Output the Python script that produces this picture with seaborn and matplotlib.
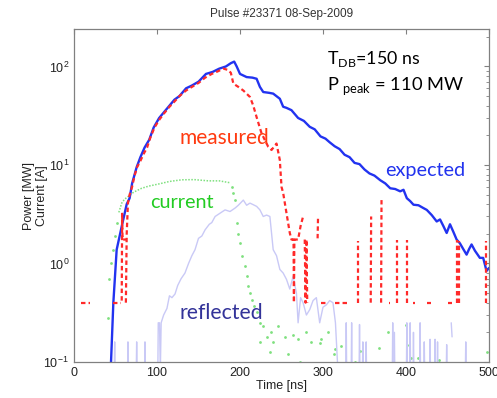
import numpy as np
import pandas as pd
import matplotlib
matplotlib.use("Agg")
import matplotlib.pyplot as plt
from matplotlib.ticker import LogLocator, NullFormatter, FixedLocator
import seaborn as sns

sns.set_style("white")
plt.rcParams["font.family"] = ["Liberation Sans", "DejaVu Sans"]

# ---------------- data ----------------
title = "Pulse #23371 08-Sep-2009"
x_ticks = [0, 100, 200, 300, 400, 500]

# expected power (MW)
exp_t = [44.6, 47.4, 51.4, 57.5, 63.5, 67, 70, 75.5, 80, 85, 90.6, 96, 102.6, 108, 115, 121, 127, 135,
         142, 150, 159, 167, 175, 183, 189, 193, 196, 200, 208, 215, 220, 224, 228, 235, 240, 248, 252,
         256, 262, 270, 277, 284, 290, 297, 303, 308, 314, 320, 326, 332, 338, 344, 350, 356, 362, 369,
         375, 381, 387, 393, 397, 401, 405, 409, 415, 421, 425, 431, 437, 441, 445, 449, 453, 457, 461,
         465, 469, 473, 476, 479, 483, 489, 493, 497, 500]
exp_y = [0.1, 0.4, 1.38, 2.38, 4.0, 4.6, 6.5, 9.5, 12, 15, 18, 24, 30, 34, 40, 46, 50, 60,
         64, 70, 84, 88, 95, 100, 108, 112, 100, 84, 78, 77, 75, 62, 55, 54, 53, 47, 39,
         38, 36, 30, 28, 24.4, 23, 19.5, 18.5, 17, 15.5, 14.5, 12.7, 12, 10.5, 10.2, 9, 8.2, 7.8, 7.0,
         6.5, 5.8, 5.7, 5.4, 5.6, 4.6, 4.3, 3.95, 3.9, 3.65, 3.5, 3.1, 2.67, 2.8, 2.4, 2.04, 2.5, 2.1, 1.75,
         1.6, 1.4, 1.23, 1.4, 1.56, 1.35, 1.14, 1.14, 0.84, 0.9]

# measured power (MW), separate segments
meas_t = [8, 19,
          34.5, 35.5,
          47, 57,
          57.5, 58, 58.5, 63,
          62.5, 63.5, 65, 67, 70, 73, 76, 80, 84, 88, 92, 97, 103, 108, 115, 121, 127, 135, 142, 150,
          158, 166, 173, 180, 186, 189, 192, 198, 204, 212, 216, 220, 226, 234, 238, 244, 248, 250,
          252, 256, 260, 262, 264.5, 265, 265.5, 270, 273, 276,
          278, 279, 280, 281,
          293.5, 294,
          298, 306, 314, 329, 379, 381, 409, 411, 425, 430, 451, 456,
          342.5, 342.5, 357.5, 358, 370, 370.5, 389, 389, 401, 401, 461, 461, 463.5, 463.5, 496, 496]
meas_y = [0.4, 0.4,
          1.75, 1.75,
          0.4, 0.4,
          0.42, 3.2, 1.75, 1.75,
          0.4, 2.0, 4.1, 5.0, 6.0, 7.8, 9.5, 11, 13, 15, 19, 24, 29, 33, 39, 44, 50, 57, 62, 68,
          77, 84, 89, 95, 92, 86, 67, 62, 57, 49, 40, 30.6, 20.9, 15.3, 14.2, 16.5, 11.2, 6.0,
          5.2, 3.25, 2.04, 1.75, 1.75, 0.4, 1.75, 1.75, 2.4, 3.0,
          1.75, 0.4, 1.75, 0.4,
          1.8, 2.9,
          0.4, 0.4, 0.4, 0.4, 0.4, 0.4, 0.4, 0.4, 0.4, 0.4, 0.4, 0.4,
          0.4, 1.68, 0.4, 3.0, 0.4, 4.4, 0.4, 1.72, 0.4, 1.72, 0.4, 1.75, 0.4, 1.7, 0.4, 1.7]
meas_seg = ([0] * 2 + [1] * 2 + [2] * 2 + [3] * 4 + [4] * 48 + [5] * 4 + [6] * 2
            + [7] * 2 + [8] * 2 + [9] * 2 + [10] * 2 + [11] * 2 + [12] * 2
            + [13] * 2 + [14] * 2 + [15] * 2 + [16] * 2 + [17] * 2 + [18] * 2 + [19] * 2 + [20] * 2)

# current (A): plateau line + sampled points
cur_t = [54, 57.5, 61, 65.5, 72, 81.5, 90, 101.6, 115, 129.8, 145, 162, 175, 188]
cur_y = [3.3, 4.1, 4.5, 4.8, 5.3, 5.8, 6.1, 6.4, 6.8, 7.07, 7.1, 6.9, 6.9, 6.6]
cur_pts_t = [40.5, 42.5, 45, 47, 49, 51.4, 190, 192, 194, 196, 198, 200, 203, 206, 208, 210, 212, 214,
             217, 220, 224, 224, 228, 232, 236, 237, 240, 246, 254, 258, 264, 270, 272, 280, 286, 296,
             298, 306, 313, 314, 322, 338, 344, 368, 378.7, 400.6, 404, 406, 414, 440, 497]
cur_pts_y = [0.28, 0.69, 1.0, 1.38, 1.9, 2.6, 6.0, 5.2, 4.4, 2.6, 2.0, 1.6, 1.2, 0.94, 0.75, 0.59, 0.5, 0.43,
             0.37, 0.32, 0.25, 0.16, 0.23, 0.18, 0.125, 0.2, 0.16, 0.23, 0.18, 0.12, 0.19, 0.17, 0.1, 0.2, 0.16, 0.155,
             0.17, 0.2, 0.12, 0.135, 0.145, 0.1, 0.13, 0.14, 0.2, 0.24, 0.15, 0.11, 0.11, 0.105, 0.125]

# reflected power (MW)
refl_t = [48.5, 49, 49.5, 64.5, 65, 65.5, 75, 75.5, 76, 85, 85.5, 86,
          101, 101.5, 103, 104, 105, 108, 112, 115, 118, 121.7, 125, 129, 133.7, 138, 142, 145.8, 150, 154,
          158, 163, 166, 170, 175, 182, 188, 194, 198, 204, 208, 212, 216, 220, 224, 228, 232, 236, 240,
          244, 248, 252, 256, 260, 264, 268, 270, 273, 276, 280, 284, 288, 292, 296, 300, 304, 308, 312,
          315, 318,
          327.5, 328, 328.5, 334, 334.5, 335, 343.5, 344, 344.5, 347.5, 348, 348.5, 351.5, 352, 352.5,
          383.5, 384, 384.5, 385.5, 386, 386.5, 400.5, 401, 401.5, 404.5, 405, 405.5, 408.5, 409, 409.5,
          416.5, 417, 417.5, 421.5, 422, 422.5, 428.5, 429, 429.5, 434.5, 435, 435.5, 437.5, 438, 438.5,
          448.5, 449, 449.5, 471.5, 472, 472.5, 454.5, 455.5]
refl_y = [0.08, 0.16, 0.08, 0.08, 0.16, 0.08, 0.08, 0.16, 0.08, 0.08, 0.16, 0.08,
          0.08, 0.25, 0.25, 0.08, 0.25, 0.3, 0.35, 0.47, 0.45, 0.49, 0.6, 0.7, 0.8, 1.0, 1.2, 1.38, 1.8, 1.9,
          2.2, 2.5, 2.6, 3.0, 3.2, 3.5, 3.37, 3.65, 3.9, 4.4, 3.9, 4.1, 3.95, 3.8, 3.5, 3.0, 3.1, 3.0, 1.38,
          1.2, 0.87, 0.8, 0.69, 0.55, 0.74, 0.5, 0.25, 0.45, 0.4, 0.3, 0.34, 0.42, 0.45, 0.25, 0.36, 0.38, 0.42, 0.4,
          0.25, 0.08,
          0.08, 0.25, 0.08, 0.08, 0.25, 0.08, 0.08, 0.24, 0.08, 0.08, 0.16, 0.08, 0.08, 0.16, 0.08,
          0.08, 0.25, 0.08, 0.08, 0.2, 0.08, 0.08, 0.25, 0.08, 0.08, 0.25, 0.08, 0.08, 0.2, 0.08,
          0.08, 0.25, 0.08, 0.08, 0.16, 0.08, 0.08, 0.17, 0.08, 0.08, 0.17, 0.08, 0.08, 0.16, 0.08,
          0.08, 0.15, 0.08, 0.08, 0.16, 0.08, 0.25, 0.18]
refl_seg = ([0] * 3 + [1] * 3 + [2] * 3 + [3] * 3 + [4] * 58
            + sum([[k] * 3 for k in range(5, 22)], []) + [22] * 2)

# ---------------- figure ----------------
fig = plt.figure(figsize=(4.97, 3.98), dpi=100)
ax = fig.add_axes([74 / 497, 1 - 362 / 398, 415 / 497, 333 / 398])

exp_df = pd.DataFrame({"t": exp_t, "y": exp_y})
meas_df = pd.DataFrame({"t": meas_t, "y": meas_y, "seg": meas_seg})
cur_df = pd.DataFrame({"t": cur_t, "y": cur_y})
curp_df = pd.DataFrame({"t": cur_pts_t, "y": cur_pts_y})
refl_df = pd.DataFrame({"t": refl_t, "y": refl_y, "seg": refl_seg})

sns.lineplot(data=refl_df, x="t", y="y", units="seg", estimator=None, sort=False,
             color="#c9c9f6", linewidth=1.0, ax=ax, legend=False)
sns.lineplot(data=cur_df, x="t", y="y", estimator=None, sort=False,
             color="#7fe07f", linewidth=1.1, linestyle=(0, (1, 1.0)), ax=ax, legend=False)
sns.scatterplot(data=curp_df, x="t", y="y", color="#7fe07f", s=4, linewidth=0, ax=ax, legend=False)
sns.lineplot(data=exp_df, x="t", y="y", estimator=None, sort=False,
             color="#2233f0", linewidth=1.7, ax=ax, legend=False)
sns.lineplot(data=meas_df, x="t", y="y", units="seg", estimator=None, sort=False,
             color="#ff2a2a", linewidth=1.6, linestyle=(0, (2, 1.4)), ax=ax, legend=False)

ax.set_yscale("log")
ax.set_xlim(0, 500)
ax.set_ylim(0.1, 240)
ax.xaxis.set_major_locator(FixedLocator(x_ticks))
ax.yaxis.set_major_locator(LogLocator(base=10, numticks=10))
ax.yaxis.set_minor_locator(LogLocator(base=10, subs=np.arange(2, 10), numticks=20))
ax.yaxis.set_minor_formatter(NullFormatter())

for s in ax.spines.values():
    s.set_color("#808080")
    s.set_linewidth(0.9)
ax.tick_params(which="both", direction="in", top=True, right=True, color="#808080",
               labelsize=9, labelcolor="#222222")
ax.tick_params(which="major", length=3.5, width=0.8)
ax.tick_params(which="minor", length=2, width=0.6)

ax.set_xlabel("Time [ns]", fontsize=9, color="#222222", labelpad=1)
ax.set_ylabel("Power [MW]\nCurrent [A]", fontsize=9, color="#222222", labelpad=-3.5)
ax.set_title(title, fontsize=8.5, color="#333333", pad=9)

afont = ["Lato", "DejaVu Sans"]
ax.text(0.255, 0.654, "measured", transform=ax.transAxes, color="#ff3a10", fontsize=15,
        family=afont, va="baseline")
ax.text(0.183, 0.463, "current", transform=ax.transAxes, color="#22cc22", fontsize=14.3,
        family=afont, va="baseline")
ax.text(0.750, 0.559, "expected", transform=ax.transAxes, color="#2233ee", fontsize=14.3,
        family=afont, va="baseline")
ax.text(0.254, 0.129, "reflected", transform=ax.transAxes, color="#333399", fontsize=15.3,
        family=afont, va="baseline")
ax.text(0.61, 0.895, r"T$_{\mathregular{DB}}$=150 ns", transform=ax.transAxes, color="black",
        fontsize=12.8, family=afont, va="baseline")
ax.text(0.61, 0.817, r"P$_{\mathregular{\ peak}}$ = 110 MW", transform=ax.transAxes, color="black",
        fontsize=13.2, family=afont, va="baseline")

fig.savefig("out.png", dpi=100)
